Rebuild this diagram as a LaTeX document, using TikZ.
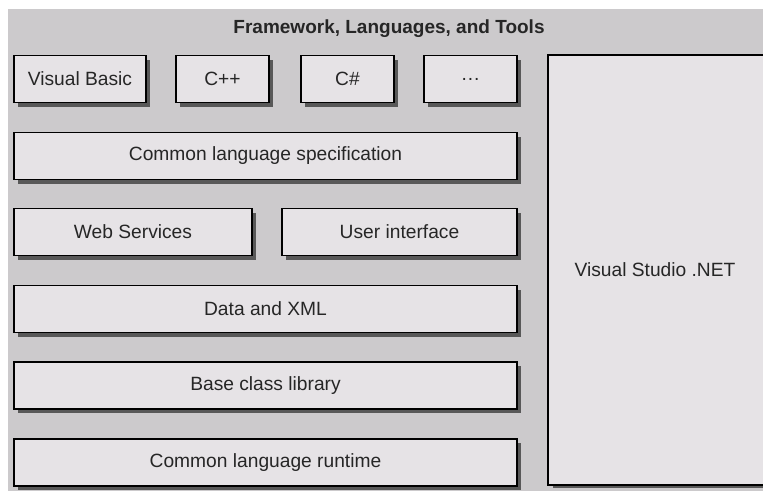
\documentclass[tikz,border=0pt]{standalone}
\usepackage{fontspec}
\setmainfont{Liberation Sans}
\usetikzlibrary{shadows}
\definecolor{panelgray}{RGB}{204,202,204}
\definecolor{boxgray}{RGB}{230,227,230}
\definecolor{shadowgray}{RGB}{88,88,88}
\tikzset{
  layer/.style={draw=black, line width=1.8pt, fill=boxgray, inner sep=0pt,
    minimum height=47pt, text=black!85, font=\fontsize{19.2}{22}\selectfont,
    drop shadow={shadow xshift=4pt, shadow yshift=-4pt, fill=shadowgray, opacity=1}},
  wide/.style={layer, minimum width=503pt},
}
\begin{document}
\begin{tikzpicture}[x=1pt,y=-1pt]
\useasboundingbox (0,0) rectangle (763,491);
\clip (0,0) rectangle (763,491);
\fill[panelgray] (8,9) rectangle (763,491);
\node[font=\bfseries\fontsize{19}{22}\selectfont, text=black!85] (title) at (389,29) {Framework, Languages, and Tools};
\node[layer, minimum width=132pt] (vb) at (80,79) {Visual Basic};
\node[layer, minimum width=93pt] (cpp) at (222.5,79) {C++};
\node[layer, minimum width=93pt] (cs) at (347.5,79) {C\#};
\node[layer, minimum width=93pt] (more) at (470.5,79) {.\kern1pt.\kern1pt.};
\node[wide] (cls) at (265.5,156) {Common language specification};
\node[layer, minimum width=238pt] (ws) at (133,232) {Web Services};
\node[layer, minimum width=235pt] (ui) at (399.5,232) {User interface};
\node[wide] (dx) at (265.5,309) {Data and XML};
\node[wide] (bcl) at (265.5,385.5) {Base class library};
\node[wide] (clr) at (265.5,462.5) {Common language runtime};
\node[layer, draw=none, minimum width=270pt, minimum height=428pt] (vs) at (684,270) {};
\draw[line width=1.8pt] (vs.north east) -- (vs.north west) -- (vs.south west) -- (vs.south east);
\node[font=\fontsize{19.2}{22}\selectfont, text=black!85] (vslabel) at (655,270) {Visual Studio .NET};
\end{tikzpicture}
\end{document}
